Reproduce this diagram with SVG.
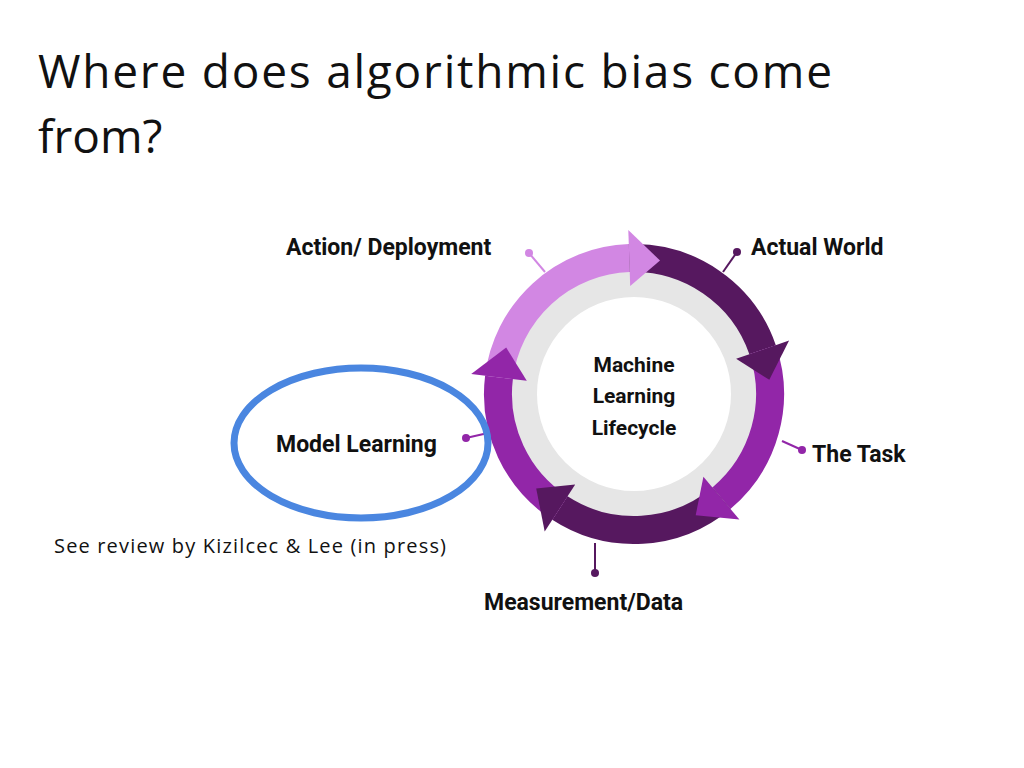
<svg xmlns="http://www.w3.org/2000/svg" width="1024" height="768" viewBox="0 0 1024 768">
<style>
.t{font-family:"Open Sans","Noto Sans",sans-serif;font-size:46px;fill:#111}
.l{font-family:Roboto,"Liberation Sans",sans-serif;font-weight:bold;font-size:23px;fill:#111}
.c{font-family:Roboto,"Liberation Sans",sans-serif;font-weight:bold;font-size:21px;fill:#111;text-anchor:middle}
.band{fill:none;stroke-width:28}
</style>
<rect width="1024" height="768" fill="#fff"/>
<text class="t" x="38" y="88" textLength="794">Where does algorithmic bias come</text>
<text class="t" x="38" y="153">from?</text>
<text x="54" y="553" font-family="Open Sans,Noto Sans,sans-serif" font-size="20" fill="#111" textLength="392">See review by Kizilcec &amp; Lee (in press)</text>
<g id="ring">
<circle cx="634" cy="394" r="110" fill="#fff" stroke="#e6e6e6" stroke-width="26"/>
</g>
<g id="connectors">
<path class="band" stroke="#D287E3" d="M499,377.4 A136,136 0 0 1 629.3,258.1"/>
<path class="band" stroke="#56185F" d="M629.3,258.1 A136,136 0 0 1 762.6,349.7"/>
<path class="band" stroke="#9226A8" d="M762.6,349.7 A136,136 0 0 1 721.4,498.2"/>
<path class="band" stroke="#56185F" d="M721.4,498.2 A136,136 0 0 1 559.9,508.1"/>
<path class="band" stroke="#9226A8" d="M559.9,508.1 A136,136 0 0 1 499,377.4"/>
<polygon fill="#D287E3" points="660,260.5 630.2,286.1 628.3,230.1"/>
<polygon fill="#56185F" points="769.3,379.8 736.1,358.8 789.1,340.6"/>
<polygon fill="#9226A8" points="695.7,515.2 703.4,476.7 739.4,519.6"/>
<polygon fill="#56185F" points="536.2,488.5 575.2,484.6 544.7,531.5"/>
<polygon fill="#9226A8" points="506.2,347.5 526.8,380.8 471.2,374"/>
<g stroke-width="2">
<line x1="529" y1="253" x2="545" y2="272" stroke="#D287E3"/><circle cx="529" cy="253" r="4" fill="#D287E3"/>
<line x1="737" y1="252" x2="723" y2="272" stroke="#56185F"/><circle cx="737" cy="252" r="4" fill="#56185F"/>
<line x1="802" y1="450" x2="782" y2="441" stroke="#9226A8"/><circle cx="802" cy="450" r="4" fill="#9226A8"/>
<line x1="595" y1="573" x2="595" y2="543" stroke="#56185F"/><circle cx="595" cy="573" r="4" fill="#56185F"/>
<line x1="466" y1="438" x2="488" y2="433" stroke="#9226A8"/><circle cx="466" cy="438" r="4" fill="#9226A8"/>
</g>
</g>
<g id="center"><text class="c" x="634" y="372">Machine</text><text class="c" x="634" y="403">Learning</text><text class="c" x="634" y="435">Lifecycle</text></g>
<g id="action"><text class="l" x="286" y="255">Action/ Deployment</text></g>
<g id="world"><text class="l" x="751" y="255">Actual World</text></g>
<g id="task"><text class="l" x="812" y="462">The Task</text></g>
<g id="data"><text class="l" x="484" y="610">Measurement/Data</text></g>
<g id="model"><ellipse cx="361" cy="443" rx="127" ry="75" fill="none" stroke="#4A86E0" stroke-width="7"/><text class="l" x="276" y="452">Model Learning</text></g>
</svg>
